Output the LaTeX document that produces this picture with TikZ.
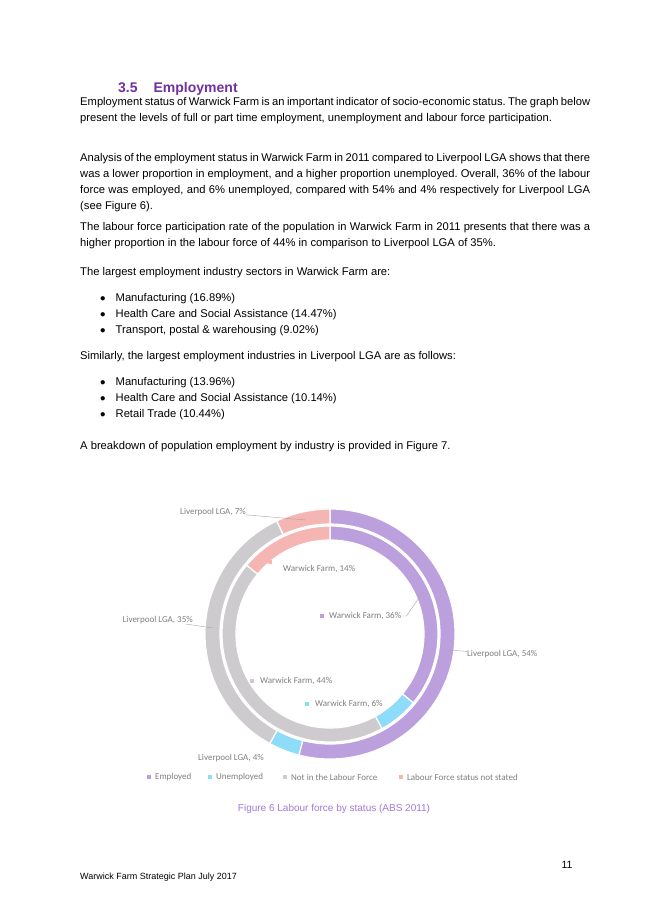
\documentclass[tikz,border=0pt]{standalone}
\usepackage{fontspec}
\setmainfont{Liberation Sans}
\newfontfamily\chartfont{Carlito}
\usetikzlibrary{positioning}
\definecolor{heading}{HTML}{7030A0}
\definecolor{caption}{HTML}{A47AD6}
\definecolor{employed}{HTML}{BBA0DD}
\definecolor{unemployed}{HTML}{8DDCFA}
\definecolor{notlf}{HTML}{CDCBCE}
\definecolor{notstated}{HTML}{F5B5B3}
\definecolor{chartgray}{HTML}{7F7F7F}
\frenchspacing

\begin{document}
\begin{tikzpicture}[x=1pt,y=1pt,
        para/.style={anchor=north west,inner sep=0pt,text width=510pt,align=justify,
          font=\fontsize{11.2}{16}\selectfont},
        item/.style={anchor=north west,inner sep=0pt,font=\fontsize{11.2}{16}\selectfont},
        lab/.style={inner sep=0pt,text=chartgray,font=\chartfont\fontsize{9}{10}\selectfont},
        key/.style={inner sep=0pt,minimum size=3.5pt,fill=#1},
        leader/.style={chartgray!70,thin}]
            \useasboundingbox[fill=white] (0,0) rectangle (653,-924);

            % text of the page
            \node[anchor=base west,inner sep=0pt,text=heading,font=\bfseries\fontsize{14}{15}\selectfont] (head) at (118,-92) {3.5\hspace{16pt}Employment};
            \node[para] (p1) at (80,-97) {Employment status of Warwick Farm is an important indicator of socio-economic status. The graph below present the levels of full or part time employment, unemployment and labour force participation.};
            \node[para] (p2) at (80,-153) {Analysis of the employment status in Warwick Farm in 2011 compared to Liverpool LGA shows that there was a lower proportion in employment, and a higher proportion unemployed. Overall, 36\% of the labour force was employed, and 6\% unemployed, compared with 54\% and 4\% respectively for Liverpool LGA (see Figure 6).};
            \node[para] (p3) at (80,-222) {The labour force participation rate of the population in Warwick Farm in 2011 presents that there was a higher proportion in the labour force of 44\% in comparison to Liverpool LGA of 35\%.};
            \node[para] (p4) at (80,-267) {The largest employment industry sectors in Warwick Farm are:};
            \foreach \txt [count=\i] in {Manufacturing (16.89\%),Health Care and Social Assistance (14.47\%),{Transport, postal \& warehousing (9.02\%)}}
              \node[item] (wf\i) at (100,-277-16*\i) {$\bullet$\hspace{10pt}\txt};
            \node[para] (p5) at (80,-351) {Similarly, the largest employment industries in Liverpool LGA are as follows:};
            \foreach \txt [count=\i] in {Manufacturing (13.96\%),Health Care and Social Assistance (10.14\%),Retail Trade (10.44\%)}
              \node[item] (lg\i) at (100,-361-16*\i) {$\bullet$\hspace{10pt}\txt};
            \node[para] (p6) at (80,-441) {A breakdown of population employment by industry is provided in Figure 7.};

            % the two rings
            \begin{scope}[shift={(330,-634)}]
              \foreach \a/\b/\c in {0/.54/employed,.54/.58/unemployed,.58/.93/notlf,.93/1/notstated}
                \filldraw[fill=\c,draw=white,line width=1.2pt] ({90-360*\a}:125) arc[start angle=90-360*\a,end angle=90-360*\b,radius=125]
                  -- ({90-360*\b}:110) arc[start angle=90-360*\b,end angle=90-360*\a,radius=110] -- cycle;
              \foreach \a/\b/\c in {0/.36/employed,.36/.42/unemployed,.42/.86/notlf,.86/1/notstated}
                \filldraw[fill=\c,draw=white,line width=1.2pt] ({90-360*\a}:108) arc[start angle=90-360*\a,end angle=90-360*\b,radius=108]
                  -- ({90-360*\b}:94) arc[start angle=90-360*\b,end angle=90-360*\a,radius=94] -- cycle;
            \end{scope}

            % data labels
            \node[lab,anchor=east] (lga7) at (246,-512) {Liverpool LGA, 7\%};
            \coordinate (lga7end) at (306,-520);
            \draw[leader] (lga7) -- (lga7end);
            \node[key=notstated] (k14) at (270,-562) {};
            \node[lab,anchor=west] (wf14) at (283,-569) {Warwick Farm, 14\%};
            \node[lab,anchor=east] (lga35) at (193,-620) {Liverpool LGA, 35\%};
            \coordinate (lga35end) at (213,-628);
            \draw[leader] (lga35) -- (lga35end);
            \node[key=employed] (k36) at (322,-616) {};
            \node[lab,anchor=west] (wf36) at (329,-616) {Warwick Farm, 36\%};
            \coordinate (wf36end) at (423,-592);
            \draw[leader] (wf36.east) -- ++(5,0) -- (wf36end);
            \node[lab,anchor=west] (lga54) at (467,-654) {Liverpool LGA, 54\%};
            \coordinate (lga54end) at (448,-650);
            \draw[leader] (lga54) -- (lga54end);
            \node[key=notlf] (k44) at (252,-681) {};
            \node[lab,anchor=west] (wf44) at (260,-681) {Warwick Farm, 44\%};
            \node[key=unemployed] (k6) at (307,-704) {};
            \node[lab,anchor=west] (wf6) at (315,-704) {Warwick Farm, 6\%};
            \node[lab,anchor=west] (lga4) at (198,-758) {Liverpool LGA, 4\%};

            % legend
            \foreach \x/\c/\txt in {149/employed/Employed,210/unemployed/Unemployed,285/notlf/Not in the Labour Force,401/notstated/Labour Force status not stated}{
              \node[key=\c] (key\c) at (\x,-777) {};
              \node[lab,right=4pt of key\c] (leg\c) {\txt};
            }

            % caption and footer
            \node[inner sep=0pt,text=caption,font=\fontsize{10}{11}\selectfont] (cap) at (334,-809) {Figure 6 Labour force by status (ABS 2011)};
            \node[inner sep=0pt,font=\fontsize{10.5}{12}\selectfont] (pageno) at (567,-865) {11};
            \node[anchor=west,inner sep=0pt,font=\fontsize{9}{11}\selectfont] (footer) at (80,-877) {Warwick Farm Strategic Plan July 2017};
        \end{tikzpicture}
\end{document}
